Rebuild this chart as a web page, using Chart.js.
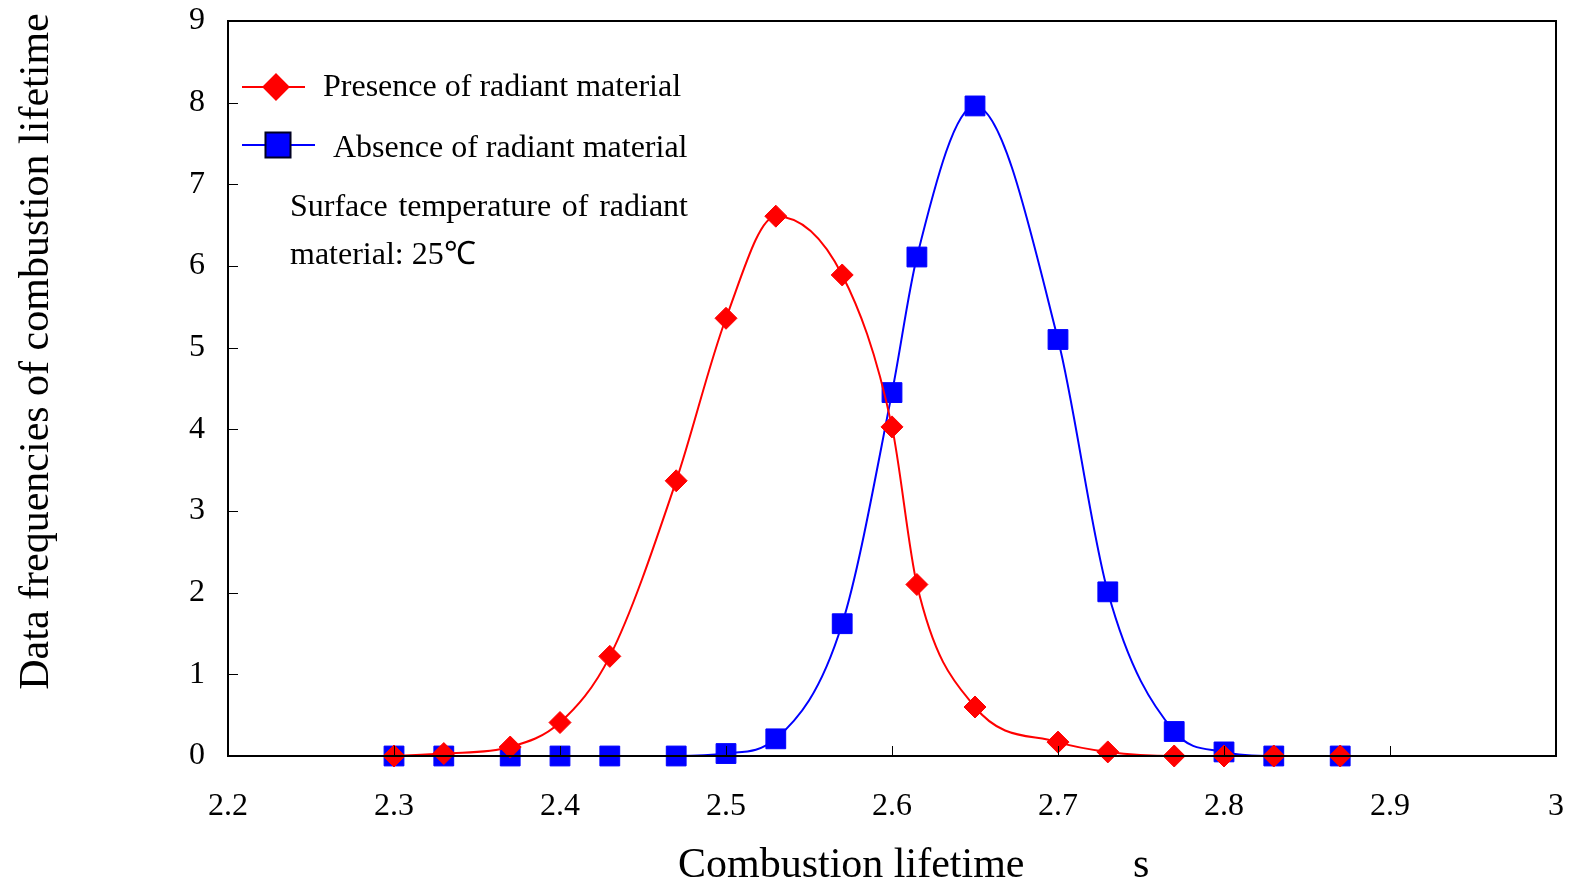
<!DOCTYPE html>
<html>
<head>
<meta charset="utf-8">
<script src="https://cdn.jsdelivr.net/npm/chart.js@4/dist/chart.umd.min.js"></script>
<style>
  html, body { margin: 0; padding: 0; background: #ffffff; }
  #wrap { width: 1575px; height: 884px; }
</style>
</head>
<body>
<div id="wrap"><canvas id="c" width="1575" height="884"></canvas></div>
<script>
// ---- data ----
const xValues = [2.3, 2.33, 2.37, 2.4, 2.43, 2.47, 2.5, 2.53, 2.57, 2.6, 2.615, 2.65, 2.7, 2.73, 2.77, 2.8, 2.83, 2.87];
const presenceValues = [0, 0.03, 0.11, 0.41, 1.22, 3.37, 5.36, 6.61, 5.89, 4.03, 2.1, 0.6, 0.17, 0.05, 0, 0, 0, 0];
const absenceValues  = [0, 0, 0, 0, 0, 0, 0.03, 0.21, 1.62, 4.45, 6.11, 7.96, 5.1, 2.01, 0.3, 0.05, 0, 0];
const seriesNames = ['Presence of radiant material', 'Absence of radiant material'];
const xTickLabels = ['2.2', '2.3', '2.4', '2.5', '2.6', '2.7', '2.8', '2.9', '3'];
const yTickLabels = ['0', '1', '2', '3', '4', '5', '6', '7', '8', '9'];
const xTitle = 'Combustion lifetime';
const xUnit = 's';
const yTitle = 'Data frequencies of combustion lifetime';
const noteLine1 = ['Surface', 'temperature', 'of', 'radiant'];
const noteLine2 = 'material: 25\u2103';

const FONT = '"Liberation Serif", "Times New Roman", serif';
const RED = '#ff0000';
const BLUE = '#0000ff';

function toPoints(ys) { return xValues.map((x, i) => ({ x: x, y: ys[i] })); }
function zeroPad(s) { s.paddingLeft = 0; s.paddingRight = 0; s.paddingTop = 0; s.paddingBottom = 0; }

const decorPlugin = {
  id: 'decor',
  afterDraw(chart) {
    const ctx = chart.ctx;
    const a = chart.chartArea;
    const xs = chart.scales.x, ys = chart.scales.y;
    ctx.save();
    // inner ticks
    ctx.strokeStyle = '#000';
    ctx.lineWidth = 1;
    ctx.beginPath();
    ys.ticks.forEach(t => {
      const py = Math.round(ys.getPixelForValue(t.value)) + 0.5;
      ctx.moveTo(a.left, py); ctx.lineTo(a.left + 10, py);
    });
    xs.ticks.forEach(t => {
      const px = Math.round(xs.getPixelForValue(t.value)) + 0.5;
      ctx.moveTo(px, a.bottom); ctx.lineTo(px, a.bottom - 10);
    });
    ctx.stroke();
    // frame
    ctx.lineWidth = 2;
    ctx.strokeRect(a.left, a.top, a.right - a.left, a.bottom - a.top);

    // legend
    const legendItems = [
      { color: RED, style: 'rectRot', radius: 12.5, x1: 242, x2: 305, mx: 276, y: 87, tx: 323, ty: 96, border: RED, bw: 1 },
      { color: BLUE, style: 'rect', radius: 17.7, x1: 242, x2: 315, mx: 278, y: 145, tx: 333, ty: 157, border: '#000022', bw: 2 }
    ];
    legendItems.forEach((it, i) => {
      ctx.strokeStyle = it.color;
      ctx.lineWidth = 2;
      ctx.beginPath(); ctx.moveTo(it.x1, it.y); ctx.lineTo(it.x2, it.y); ctx.stroke();
      ctx.fillStyle = it.color;
      ctx.strokeStyle = it.border;
      Chart.helpers.drawPoint(ctx, { pointStyle: it.style, radius: it.radius, rotation: 0, borderWidth: it.bw }, it.mx, it.y);
      ctx.fillStyle = '#000';
      ctx.font = '32px ' + FONT;
      ctx.textAlign = 'left';
      ctx.textBaseline = 'alphabetic';
      ctx.fillText(seriesNames[i], it.tx, it.ty);
    });

    // annotation (justified first line)
    ctx.font = '32px ' + FONT;
    ctx.fillStyle = '#000';
    const left = 290, right = 688;
    const widths = noteLine1.map(w => ctx.measureText(w).width);
    const total = widths.reduce((s, w) => s + w, 0);
    const gap = (right - left - total) / (noteLine1.length - 1);
    let cx = left;
    noteLine1.forEach((w, i) => { ctx.fillText(w, cx, 216); cx += widths[i] + gap; });
    ctx.fillText(noteLine2, left, 264);

    // axis titles
    ctx.font = '42px ' + FONT;
    ctx.textAlign = 'left';
    ctx.fillText(xTitle, 678, 877);
    ctx.fillText(xUnit, 1133, 877);
    ctx.save();
    ctx.translate(48, 351.5);
    ctx.rotate(-Math.PI / 2);
    ctx.textAlign = 'center';
    ctx.fillText(yTitle, 0, 0);
    ctx.restore();

    ctx.restore();
  }
};

new Chart(document.getElementById('c'), {
  type: 'line',
  data: {
    datasets: [
      {
        label: seriesNames[0],
        data: toPoints(presenceValues),
        borderColor: RED, backgroundColor: RED,
        pointBackgroundColor: RED, pointBorderColor: RED,
        borderWidth: 2, pointStyle: 'rectRot', pointRadius: 11, pointBorderWidth: 1,
        cubicInterpolationMode: 'monotone', fill: false, clip: false
      },
      {
        label: seriesNames[1],
        data: toPoints(absenceValues),
        borderColor: BLUE, backgroundColor: BLUE,
        pointBackgroundColor: BLUE, pointBorderColor: BLUE,
        borderWidth: 2, pointStyle: 'rect', pointRadius: 14, pointBorderWidth: 1,
        cubicInterpolationMode: 'monotone', fill: false, clip: false
      }
    ]
  },
  options: {
    responsive: false,
    animation: false,
    devicePixelRatio: 1,
    layout: { padding: { top: 21, right: 19, left: 0, bottom: 0 } },
    plugins: { legend: { display: false }, tooltip: { enabled: false } },
    scales: {
      x: {
        type: 'linear', min: 2.2, max: 3,
        grid: { display: false, drawTicks: false },
        border: { display: false },
        ticks: {
          stepSize: 0.1, padding: 31, color: '#000', maxRotation: 0, autoSkip: false,
          font: { family: FONT, size: 32 },
          callback: (v, i) => xTickLabels[i] !== undefined ? xTickLabels[i] : String(parseFloat(v.toFixed(1)))
        },
        afterFit: s => { s.height = 128; zeroPad(s); }
      },
      y: {
        type: 'linear', min: 0, max: 9,
        grid: { display: false, drawTicks: false },
        border: { display: false },
        ticks: {
          stepSize: 1, padding: 23, color: '#000',
          font: { family: FONT, size: 32 },
          callback: (v, i) => yTickLabels[i] !== undefined ? yTickLabels[i] : String(v)
        },
        afterFit: s => { s.width = 228; zeroPad(s); }
      }
    }
  },
  plugins: [decorPlugin]
});
</script>
</body>
</html>
